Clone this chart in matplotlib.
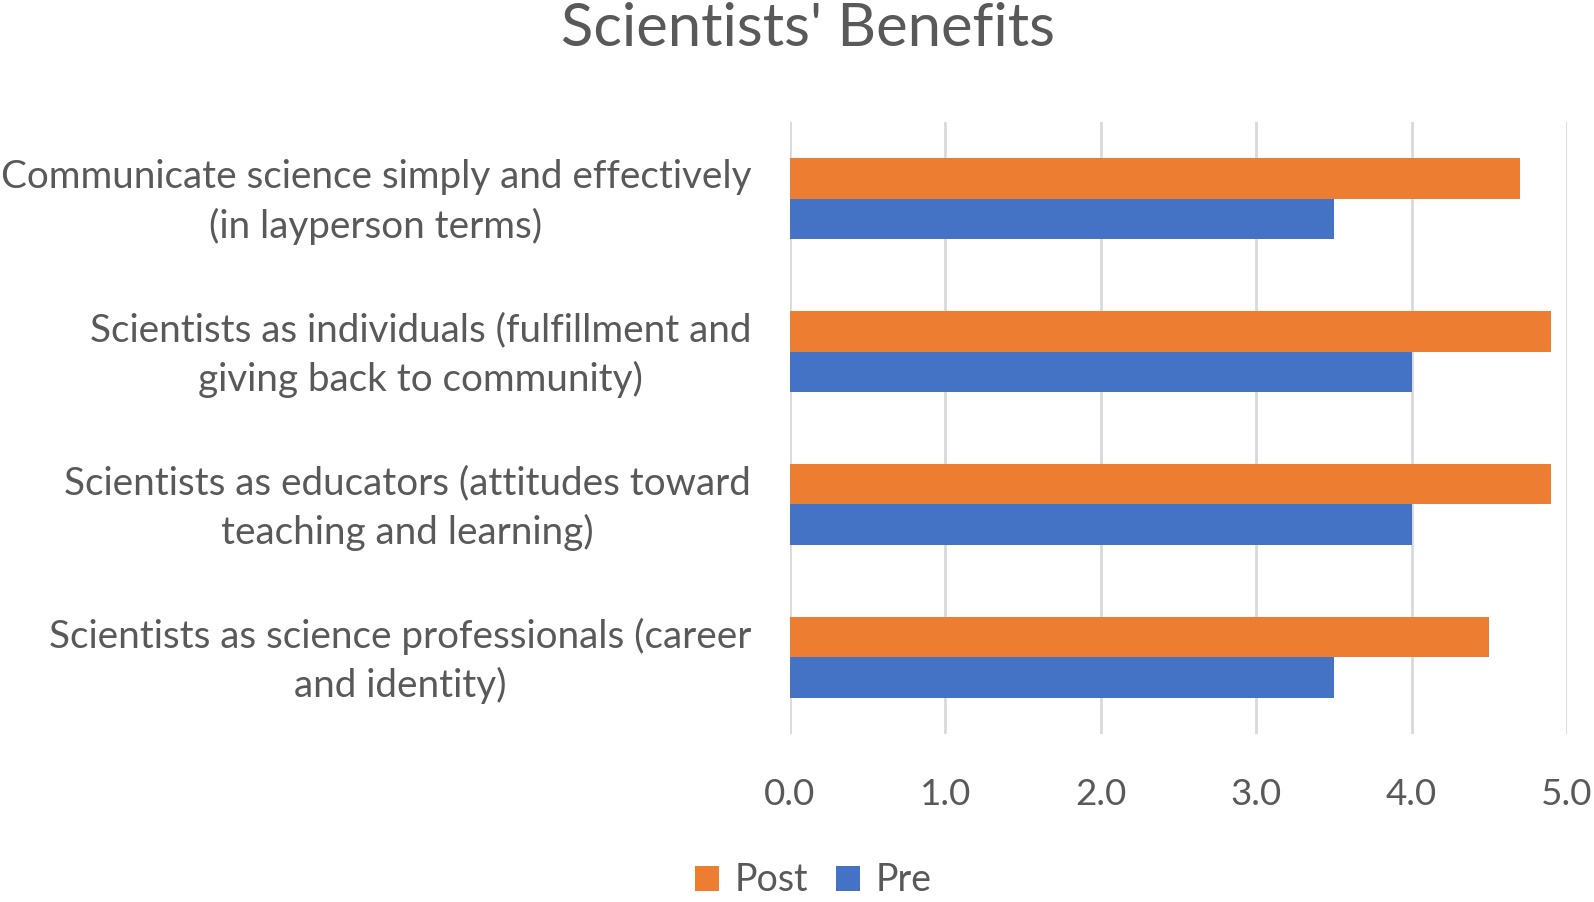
import matplotlib.pyplot as plt
import matplotlib.transforms as mtransforms
import numpy as np

categories = [
    "Communicate science simply and effectively\n(in layperson terms)",
    "Scientists as individuals (fulfillment and\ngiving back to community)",
    "Scientists as educators (attitudes toward\nteaching and learning)",
    "Scientists as science professionals (career\nand identity)",
]
post = [4.7, 4.9, 4.9, 4.5]
pre = [3.5, 4.0, 4.0, 3.5]
xticks = [0, 1, 2, 3, 4, 5]

text_color = "#595959"
plt.rcParams["font.family"] = ["Lato", "DejaVu Sans"]

fig = plt.figure(figsize=(15.94, 9.02), dpi=100)
ax = fig.add_axes([0.4956, 0.1863, 0.4874, 0.6784])

y = np.arange(len(categories))
h = 0.265
ax.barh(y - h / 2, post, height=h, color="#ED7D31", label="Post", zorder=3)
ax.barh(y + h / 2, pre, height=h, color="#4472C4", label="Pre", zorder=3)

ax.set_ylim(len(categories) - 0.5, -0.5)
ax.set_xlim(0, 5)
ax.set_xticks(xticks)
ax.set_xticklabels([f"{v:.1f}" for v in xticks], fontsize=26.5, color=text_color)
ax.set_yticks(y)
ax.set_yticklabels(categories, fontsize=27.8, color=text_color,
                   multialignment="center", linespacing=1.4)
ax.tick_params(axis="both", length=0)
ax.tick_params(axis="x", pad=32)
ax.tick_params(axis="y", pad=28)
ax.grid(axis="x", color="#D9D9D9", linewidth=2, zorder=0)
for s in ax.spines.values():
    s.set_visible(False)

# nudge category labels up a little
shift = mtransforms.ScaledTranslation(0, 6 / 100, fig.dpi_scale_trans)
for lbl in ax.get_yticklabels():
    lbl.set_transform(lbl.get_transform() + shift)

fig.suptitle("Scientists' Benefits", fontsize=43, color=text_color, x=0.507, y=0.998)

fig.legend(loc="center", bbox_to_anchor=(0.51, 0.024), ncol=2, frameon=False,
           fontsize=27, labelcolor=text_color, handlelength=0.65, handleheight=0.65,
           handletextpad=0.4, columnspacing=0.75, borderpad=0.1)

fig.savefig("out.png", dpi=100)
